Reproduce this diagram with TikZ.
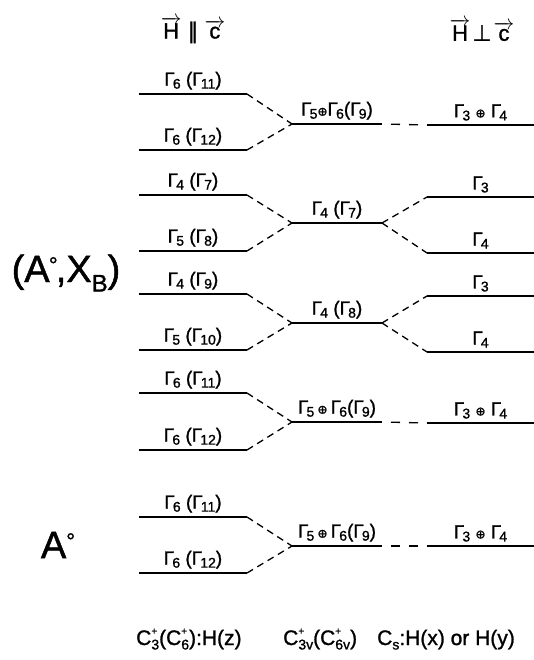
\documentclass[tikz,border=0pt]{standalone}
\usepackage{fontspec}
\setmainfont{Liberation Sans}[FakeBold=1.2]
\newfontfamily\dejavu{DejaVu Sans}[FakeBold=1.2]
\newcommand\G[1]{Γ\kern-0.1em\raisebox{-0.3ex}{\fontsize{14}{14}\selectfont #1}}
\newcommand\SupSub[2]{\makebox[0pt][l]{\raisebox{0.95ex}{\fontsize{10}{10}\selectfont #1}}\raisebox{-0.4ex}{\fontsize{14}{14}\selectfont #2}}
\newcommand\oplusx{{\dejavu\fontsize{12}{12}\selectfont ⊕}}
\tikzset{
  lvl/.style={line width=2.9pt},
  con/.style={line width=1.3pt, dash pattern=on 7pt off 5pt},
  hcon/.style={line width=1.3pt, dash pattern=on 9pt off 9pt, dash phase=9pt},
  lab/.style={font=\fontsize{19}{19}\selectfont, inner sep=3pt, above},
  head/.style={font=\fontsize{22}{22}\selectfont, inner sep=0pt},
  big/.style={font=\fontsize{38}{38}\selectfont, inner sep=0pt},
  foot/.style={font=\fontsize{21}{21}\selectfont, inner sep=0pt, anchor=base west}
}
\newcommand\lev[5]{%
  \coordinate (#1w) at (#2,#4);
  \coordinate (#1e) at (#3,#4);
  \draw[lvl] (#1w) -- (#1e) node[lab, midway] (#1t) {#5};}
\begin{document}
\begin{tikzpicture}[x=1pt,y=-1pt]
\useasboundingbox (0,0) rectangle (534,660);
% headers
\node[head] (hpar) at (193,30) {$\overrightarrow{\mbox{H}}$\hspace{6pt}{\dejavu ∥}\hspace{6pt}$\overrightarrow{\mbox{c}}$};
\node[head] (hperp) at (482,30) {$\overrightarrow{\mbox{H}}$\hspace{2pt}{\dejavu ⊥}\hspace{2pt}$\overrightarrow{\mbox{c}}$};
% side labels
\node[big] (ax) at (66,273) {(A\kern-0.02em\raisebox{0.25em}{\fontsize{22}{22}\selectfont °}\kern-0.05em,X\raisebox{-0.25em}{\fontsize{24}{24}\selectfont B})};
\node[big] (a0) at (58,545) {A\raisebox{0.25em}{\fontsize{22}{22}\selectfont °}};
% left column
\lev{L1}{139}{247}{94}{\G6 (\G{11})}
\lev{L2}{139}{247}{150}{\G6 (\G{12})}
\lev{L3}{139}{247}{195}{\G4 (\G{7})}
\lev{L4}{139}{247}{251}{\G5 (\G{8})}
\lev{L5}{139}{247}{294}{\G4 (\G{9})}
\lev{L6}{139}{247}{350}{\G5 (\G{10})}
\lev{L7}{139}{247}{393}{\G6 (\G{11})}
\lev{L8}{139}{247}{450}{\G6 (\G{12})}
\lev{L9}{139}{247}{517}{\G6 (\G{11})}
\lev{L10}{139}{247}{573}{\G6 (\G{12})}
% middle column
\lev{M1}{292}{382}{124}{\G5\oplusx\G6(\G9)}
\lev{M2}{292}{382}{223}{\G4 (\G7)}
\lev{M3}{292}{382}{323}{\G4 (\G8)}
\lev{M4}{292}{382}{422}{\G5\,\oplusx\,\G6(\G9)}
\lev{M5}{292}{382}{546}{\G5\,\oplusx\,\G6(\G9)}
% right column
\lev{R1}{427}{534}{125}{\G3\ \oplusx\ \G4}
\lev{R2}{427}{534}{197}{\G3}
\lev{R3}{427}{534}{253}{\G4}
\lev{R4}{427}{534}{296}{\G3}
\lev{R5}{427}{534}{352}{\G4}
\lev{R6}{427}{534}{423}{\G3\ \oplusx\ \G4}
\lev{R7}{427}{534}{546}{\G3\ \oplusx\ \G4}
% connectors left -> middle
\draw[con] (L1e) -- (M1w);  \draw[con] (L2e) -- (M1w);
\draw[con] (L3e) -- (M2w);  \draw[con] (L4e) -- (M2w);
\draw[con] (L5e) -- (M3w);  \draw[con] (L6e) -- (M3w);
\draw[con] (L7e) -- (M4w);  \draw[con] (L8e) -- (M4w);
\draw[con] (L9e) -- (M5w);  \draw[con] (L10e) -- (M5w);
% connectors middle -> right
\draw[hcon] (M1e) -- (R1w);
\draw[con] (M2e) -- (R2w);  \draw[con] (M2e) -- (R3w);
\draw[con] (M3e) -- (R4w);  \draw[con] (M3e) -- (R5w);
\draw[hcon] (M4e) -- (R6w);
\draw[hcon] (M5e) -- (R7w);
% footer
\node[foot] (f1) at (136,645) {C\SupSub{+}{3}(C\SupSub{+}{6}):H(z)};
\node[foot] (f2) at (283,645) {C\SupSub{+}{3v}(C\SupSub{+}{6v})};
\node[foot] (f3) at (377,645) {C\raisebox{-0.4ex}{\fontsize{14}{14}\selectfont s}:H(x) or H(y)};
\end{tikzpicture}
\end{document}
